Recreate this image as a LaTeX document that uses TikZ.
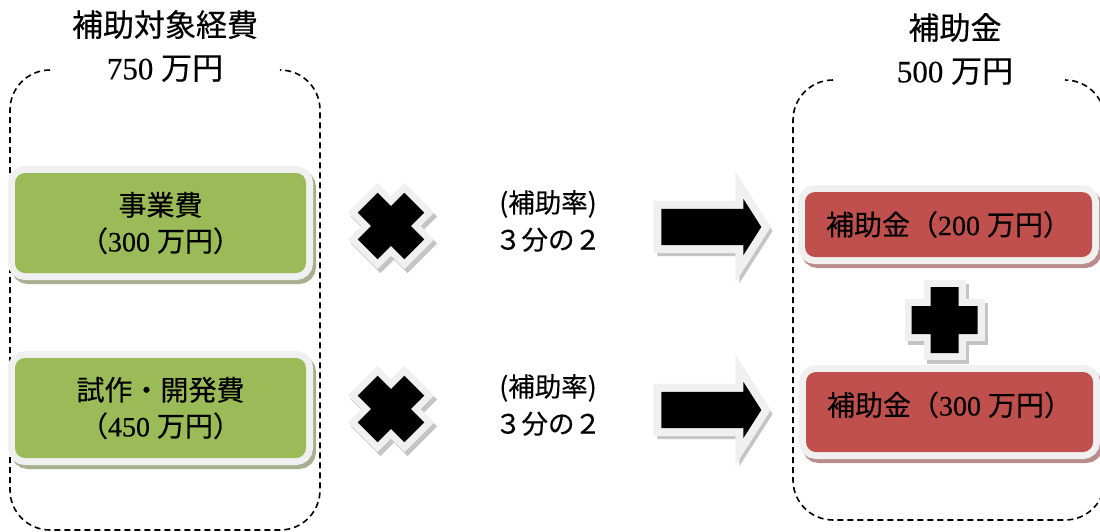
\documentclass[tikz,border=0pt]{standalone}
\usepackage{fontspec}
\setmainfont{Liberation Serif}[FakeBold=0.4,UprightFeatures={FakeBold=0.4}]
\newfontfamily\cjk{Noto Sans CJK JP}[FakeBold=0.4,UprightFeatures={FakeBold=0.4}]
\usepackage{tikz}
\usetikzlibrary{shapes.arrows}

\definecolor{costgreen}{HTML}{9BBB59}
\definecolor{grantred}{HTML}{C0504D}
\definecolor{rimgrey}{HTML}{F0F0F0}
\definecolor{greenshade}{HTML}{A8AF8F}
\definecolor{redshade}{HTML}{B88C8C}
\definecolor{markshade}{HTML}{C4C4C4}

\tikzset{
  shade/.style={preaction={draw=#1, fill=#1, line width=14pt, line join=miter,
      transform canvas={shift={(3pt,-4pt)}}}},
  rim/.style={preaction={draw=rimgrey, line width=#1, line join=miter}},
  rim/.default=14pt,
  plusmark/.pic={
    \path[fill=markshade, draw=markshade, line width=14pt, shift={(3pt,-4pt)}, rotate=#1]
      (-14,-33) -- (14,-33) -- (14,-14) -- (33,-14) -- (33,14) -- (14,14) -- (14,33)
      -- (-14,33) -- (-14,14) -- (-33,14) -- (-33,-14) -- (-14,-14) -- cycle;
    \path[fill=black, draw=rimgrey, line width=14pt, rotate=#1]
      (-14,-33) -- (14,-33) -- (14,-14) -- (33,-14) -- (33,14) -- (14,14) -- (14,33)
      -- (-14,33) -- (-14,14) -- (-33,14) -- (-33,-14) -- (-14,-14) -- cycle;
    \fill[black, rotate=#1]
      (-14,-33) -- (14,-33) -- (14,-14) -- (33,-14) -- (33,14) -- (14,14) -- (14,33)
      -- (-14,33) -- (-14,14) -- (-33,14) -- (-33,-14) -- (-14,-14) -- cycle;
  }
}

\begin{document}
\begin{tikzpicture}[x=1pt, y=-1pt,
    frame/.style={draw=black, line width=1.6pt, dash pattern=on 6pt off 4pt, rounded corners=40pt},
    title/.style={align=center, font=\fontsize{31}{43}\selectfont},
    cost/.style={shade=greenshade, rim, fill=costgreen, rounded corners=10pt, inner sep=0pt,
      minimum width=291pt, minimum height=100pt, align=center, font=\fontsize{28}{36}\selectfont},
    grant/.style={shade=redshade, rim, fill=grantred, rounded corners=10pt, inner sep=0pt,
      minimum width=287pt, align=center, font=\fontsize{28}{36}\selectfont},
    rate/.style={align=center, font=\cjk\fontsize{26.5}{37}\selectfont},
    bigarrow/.style={shade=markshade, rim=16pt, shape=single arrow, fill=black, inner sep=0pt,
      inner ysep=18pt, text height=0pt, text depth=0pt, minimum height=100pt,
      single arrow head extend=10pt, single arrow tip angle=115}]
  \useasboundingbox (0,0) rectangle (1100,531);
  \clip (0,0) rectangle (1100,531);

  % dashed groups
  \draw[frame] (50,70) -| (10,530) -| (320,70) -- (280,70);
  \draw[frame] (833,80) -| (793,520) -| (1105,80) -- (1065,80);

  \node[title] (costtitle) at (165,46) {{\cjk 補助対象経費}\\750 {\cjk 万円}};
  \node[title] (granttitle) at (955,49) {{\cjk 補助金}\\500 {\cjk 万円}};

  % costs
  \node[cost] (cost1) at (160.5,223) {{\cjk 事業費}\\{\cjk （}300 {\cjk 万円）}};
  \node[cost] (cost2) at (160.5,408) {{\cjk 試作・開発費}\\{\cjk （}450 {\cjk 万円）}};

  \pic (times1) at (391,226) {plusmark=45};
  \pic (times2) at (391,409) {plusmark=45};

  \node[rate] (rate1) at (548,221) {(補助率)\\３分の２};
  \node[rate] (rate2) at (548,405) {(補助率)\\３分の２};

  \node[bigarrow] (arrow1) at (705.5,227) {};
  \node[bigarrow] (arrow2) at (705.5,410) {};

  % grants
  \node[grant, minimum height=65pt] (grant1) at (948.5,224.5) {{\cjk 補助金（}200 {\cjk 万円）}};
  \node[grant, minimum height=80pt, text depth=17pt] (grant2) at (949.5,412) {{\cjk 補助金（}300 {\cjk 万円）}};

  \pic (plus) at (944.5,320) {plusmark=0};
\end{tikzpicture}
\end{document}
